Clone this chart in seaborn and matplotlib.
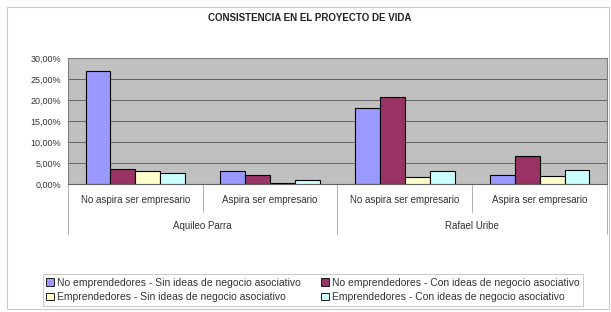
import matplotlib
matplotlib.use("Agg")
import matplotlib.pyplot as plt
import seaborn as sns
import pandas as pd
from matplotlib.patches import Rectangle
from matplotlib.lines import Line2D
from matplotlib.ticker import FuncFormatter, MultipleLocator

groups = ["Aquileo Parra", "Rafael Uribe"]
subcats = ["No aspira ser empresario", "Aspira ser empresario"]
series = [
    "No emprendedores - Sin ideas de negocio asociativo",
    "No emprendedores - Con ideas de negocio asociativo",
    "Emprendedores - Sin ideas de negocio asociativo",
    "Emprendedores - Con ideas de negocio asociativo",
]
colors = ["#9999FF", "#993366", "#FFFFCC", "#CCFFFF"]
# values (%) per series, order: AP-No, AP-Si, RU-No, RU-Si
s1 = [26.8, 3.0, 18.2, 2.2]
s2 = [3.5, 2.2, 20.7, 6.7]
s3 = [3.2, 0.3, 1.6, 1.9]
s4 = [2.7, 0.9, 3.2, 3.4]

cats = [f"{g}|{s}" for g in groups for s in subcats]
rows = []
for name, vals in zip(series, [s1, s2, s3, s4]):
    for c, v in zip(cats, vals):
        rows.append({"cat": c, "serie": name, "valor": v})
df = pd.DataFrame(rows)

sns.set_style("white")
plt.rcParams["font.family"] = ["Liberation Sans", "DejaVu Sans"]

fig = plt.figure(figsize=(6.11, 3.12), dpi=100)
ax = fig.add_axes([68 / 611, 1 - 184 / 312, (607 - 68) / 611, (184 - 58) / 312])
ax.set_facecolor("#C0C0C0")

sns.barplot(data=df, x="cat", y="valor", hue="serie", order=cats, hue_order=series,
            palette=colors, saturation=1, edgecolor="black", linewidth=0.8, width=0.74,
            ax=ax, legend=False, zorder=3)

ax.set_ylim(0, 30)
ax.set_xlim(-0.5, 3.5)
ax.yaxis.set_major_locator(MultipleLocator(5))
ax.yaxis.set_major_formatter(FuncFormatter(lambda v, p: f"{v:.2f}%".replace(".", ",")))
ax.grid(axis="y", color="#555555", linewidth=0.6, zorder=0)
ax.set_axisbelow(True)
ax.set_xlabel("")
ax.set_ylabel("")
ax.tick_params(axis="y", labelsize=6.5, length=0, pad=5, labelcolor="#333333")
ax.set_xticks([])
for side in ["top", "right", "left"]:
    ax.spines[side].set_color("#808080")
    ax.spines[side].set_linewidth(0.8)
ax.spines["bottom"].set_color("#606060")

# category labels
trans = ax.get_xaxis_transform()
for i, c in enumerate(cats):
    ax.text(i, -0.13, c.split("|")[1], transform=trans, ha="center", va="center",
            fontsize=7, color="#333333", clip_on=False)
for gi, g in enumerate(groups):
    ax.text(gi * 2 + 0.5, -0.33, g, transform=trans, ha="center", va="center",
            fontsize=7, color="#333333", clip_on=False)
# separators
for x in [0.5, 2.5]:
    ax.add_line(Line2D([x, x], [0, -0.22], transform=trans, color="#a0a0a0",
                       linewidth=0.6, clip_on=False))
for x in [-0.5, 1.5, 3.5]:
    ax.add_line(Line2D([x, x], [0, -0.4], transform=trans, color="#a0a0a0",
                       linewidth=0.6, clip_on=False))

fig.text(310 / 611, 1 - 18 / 312, "CONSISTENCIA EN EL PROYECTO DE VIDA",
         ha="center", va="center", fontsize=7, fontweight="bold", color="#222222")

# chart border
fig.add_artist(Rectangle((7 / 611, 3 / 312), 602 / 611, 302 / 312, transform=fig.transFigure,
                         fill=False, edgecolor="#c8c8c8", linewidth=0.8))

handles = [Rectangle((0, 0), 1, 1, facecolor=c, edgecolor="black", linewidth=0.6) for c in colors]
order = [0, 2, 1, 3]
leg = fig.legend([handles[i] for i in order], [series[i] for i in order],
                 ncol=2, loc="center", bbox_to_anchor=(313 / 611, 1 - 290 / 312),
                 fontsize=7.5, frameon=True, fancybox=False, handlelength=0.7,
                 handleheight=0.7, handletextpad=0.3, columnspacing=2.0,
                 borderpad=0.35, labelspacing=0.45)
leg.get_frame().set_edgecolor("#b0b0b0")
leg.get_frame().set_linewidth(0.6)
for t in leg.get_texts():
    t.set_color("#333333")

fig.savefig("out.png", dpi=100)
